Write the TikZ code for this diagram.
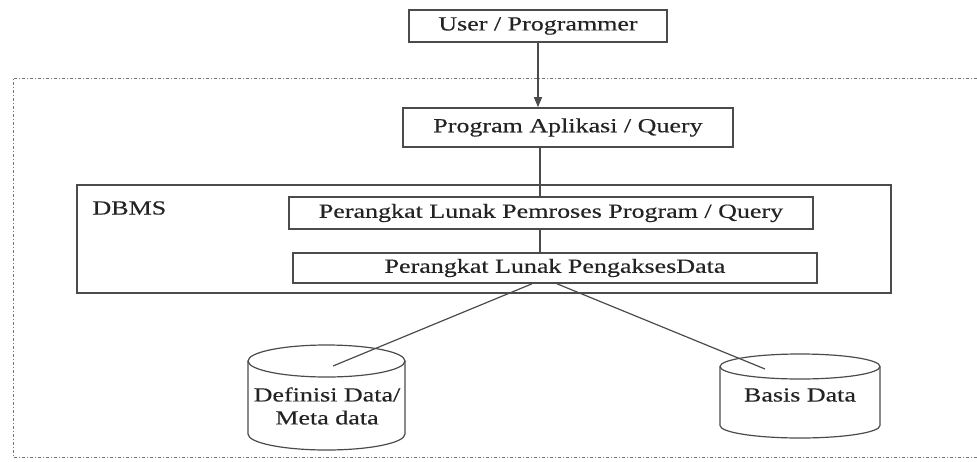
\documentclass[tikz,border=0pt]{standalone}
\usepackage{fontspec}
\setmainfont{Liberation Serif}[FakeStretch=1.3, FakeBold=0.4]
\usetikzlibrary{arrows.meta}
\definecolor{linegray}{RGB}{75,75,75}
\definecolor{textgray}{RGB}{35,35,35}

\newcommand\datastore[5]{%
    \draw[drum] (#1,-#3-#5) -- (#1,-#4+#5)
        arc[start angle=180, end angle=360, x radius={(#2-#1)/2}, y radius=#5]
        -- (#2,-#3-#5);
    \draw[drum] ({(#1+#2)/2},-#3-#5) ellipse[x radius={(#2-#1)/2}, y radius=#5];
}

\begin{document}
\begin{tikzpicture}[
        x=1pt, y=1pt,
        every node/.style={text=textgray, font=\fontsize{20pt}{23pt}\selectfont},
        box/.style={draw=linegray, line width=1.6pt, inner sep=0pt},
        drum/.style={draw=linegray, line width=1.2pt},
        link/.style={draw=linegray, line width=1.2pt},
        frame/.style={draw=black!55, line width=0.9pt, dash pattern=on 3pt off 2pt on 1pt off 2pt}
    ]
    \useasboundingbox (0,0) rectangle (977,-461);

    \draw[frame] (977,-78) -- (13,-78) -- (13,-457) -- (977,-457);

    \node[box, minimum width=258pt, minimum height=32pt] (user) at (538,-26) {User / Programmer};
    \node[box, minimum width=330pt, minimum height=39pt] (prog) at (568,-127.5) {Program Aplikasi / Query};
    \node[box, minimum width=814pt, minimum height=108pt] (dbms) at (484,-239) {};
    \node[anchor=west] (dbmslabel) at (89,-208) {DBMS};
    \node[box, minimum width=524pt, minimum height=32pt] (pemroses) at (551,-213) {Perangkat Lunak Pemroses Program / Query};
    \node[box, minimum width=524pt, minimum height=30pt] (pengakses) at (555,-268) {Perangkat Lunak PengaksesData};

    \datastore{248}{405}{345}{450}{16}
    \datastore{720}{880}{354}{438}{12.5}
    \node[align=center] (meta) at (327,-406) {Definisi Data/\\Meta data};
    \node (basis) at (800,-395) {Basis Data};
    \coordinate (metaend) at (333,-366);
    \coordinate (basisend) at (765,-369);

    \draw[link, -{Triangle[length=10pt, width=8pt]}] (user.south) -- (user.south |- prog.north);
    \draw[link] ([xshift=2pt]user.south |- prog.south) -- ([xshift=2pt]user.south |- pemroses.north);
    \draw[link] ([xshift=2pt]user.south |- pemroses.south) -- ([xshift=2pt]user.south |- pengakses.north);
    \draw[link] ([xshift=-23pt]pengakses.south) -- (metaend);
    \draw[link] ([xshift=2pt]pengakses.south) -- (basisend);
\end{tikzpicture}
\end{document}
